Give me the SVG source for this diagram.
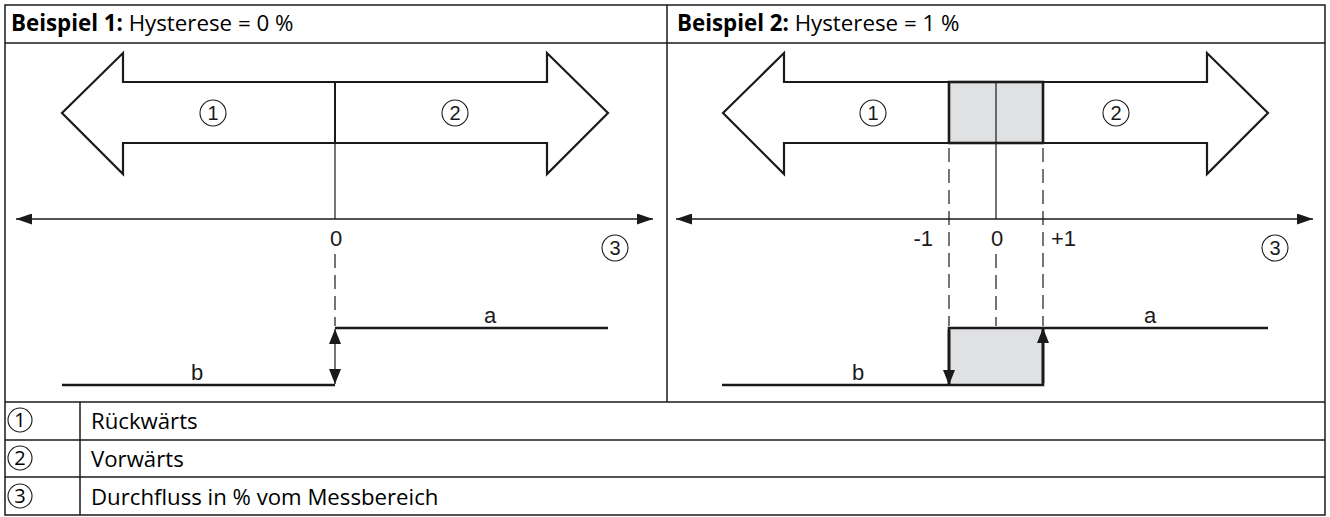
<svg xmlns="http://www.w3.org/2000/svg" width="1330" height="517" viewBox="0 0 1330 517">
<style>
.grid{fill:none;stroke:#1a1a1a;stroke-width:1.5}
.hdr{font-family:"Open Sans","Noto Sans",sans-serif;font-size:22.3px;fill:#000}
.hb{font-weight:bold}
.leg{font-family:"Open Sans","Noto Sans",sans-serif;font-size:22.2px;fill:#000}
.lbl{font-family:"Liberation Sans",Arial,sans-serif;font-size:22px;fill:#1a1a1a}
.num{font-family:"Liberation Sans",Arial,sans-serif;font-size:20px;fill:#1a1a1a;text-anchor:middle}
.lnum{font-family:"Open Sans","Noto Sans",sans-serif;font-size:20px;fill:#000;text-anchor:middle}
.circ{fill:none;stroke:#1a1a1a;stroke-width:1.1}
.big{fill:#fff;stroke:#1a1a1a;stroke-width:2.2;stroke-linejoin:miter}
.axis{stroke:#1a1a1a;stroke-width:1.3;fill:none}
.thin{stroke:#1a1a1a;stroke-width:1.2;fill:none}
.dash{stroke:#1a1a1a;stroke-width:1.2;fill:none;stroke-dasharray:14 7}
.step{stroke:#1a1a1a;stroke-width:2.6;fill:none}
.gray{fill:#e0e1e3;stroke:#1a1a1a;stroke-width:2.6}
.head{fill:#1a1a1a}
</style>
<defs>
<marker id="ah" viewBox="0 0 16 11" refX="16" refY="5.5" markerWidth="16" markerHeight="11" markerUnits="userSpaceOnUse" orient="auto-start-reverse">
<path d="M0,0 L16,5.5 L0,11 Z" class="head"/>
</marker>
<marker id="vh" viewBox="0 0 15 12" refX="15" refY="6" markerWidth="15" markerHeight="12" markerUnits="userSpaceOnUse" orient="auto-start-reverse">
<path d="M0,0 L15,6 L0,12 Z" class="head"/>
</marker>
</defs>

<g id="table">
<rect x="5" y="5" width="1320" height="510" class="grid"/>
<line x1="5" y1="43" x2="1325" y2="43" class="grid"/>
<line x1="667" y1="5" x2="667" y2="402" class="grid"/>
<line x1="5" y1="402" x2="1325" y2="402" class="grid"/>
<line x1="5" y1="440" x2="1325" y2="440" class="grid"/>
<line x1="5" y1="477" x2="1325" y2="477" class="grid"/>
<line x1="80" y1="402" x2="80" y2="515" class="grid"/>
<text x="11" y="31" class="hdr"><tspan class="hb">Beispiel 1:</tspan> Hysterese = 0 %</text>
<text x="677" y="31" class="hdr"><tspan class="hb">Beispiel 2:</tspan> Hysterese = 1 %</text>
</g>

<g id="legend">
<circle cx="20" cy="420" r="12" class="circ"/><text x="20" y="427" class="lnum">1</text>
<text x="91" y="428.5" class="leg">Rückwärts</text>
<circle cx="20" cy="458" r="12" class="circ"/><text x="20" y="465" class="lnum">2</text>
<text x="91" y="466.5" class="leg">Vorwärts</text>
<circle cx="20" cy="496" r="12" class="circ"/><text x="20" y="503" class="lnum">3</text>
<text x="91" y="504.5" class="leg">Durchfluss in % vom Messbereich</text>
</g>

<g id="example1">
<g id="ex1-arrow">
<path d="M62,113 L123,53 L123,82 L547,82 L547,53 L608,113 L547,174 L547,143 L123,143 L123,174 Z" class="big"/>
<line x1="335" y1="82" x2="335" y2="143" stroke="#1a1a1a" stroke-width="2"/>
<circle cx="213" cy="113" r="13" class="circ"/><text x="213" y="120" class="num">1</text>
<circle cx="455" cy="113" r="13" class="circ"/><text x="455" y="120" class="num">2</text>
</g>
<g id="ex1-axis">
<line x1="335" y1="143" x2="335" y2="219" class="thin"/>
<line x1="16" y1="219" x2="653" y2="219" class="axis" marker-start="url(#ah)" marker-end="url(#ah)"/>
<text x="336" y="246" class="lbl" text-anchor="middle">0</text>
<circle cx="615" cy="248" r="13" class="circ"/><text x="615" y="255" class="num">3</text>
<line x1="335" y1="254" x2="335" y2="326" class="dash"/>
</g>
<g id="ex1-step">
<polyline points="62,385 335,385" class="step"/>
<polyline points="335,328 608,328" class="step"/>
<line x1="335" y1="329" x2="335" y2="384" class="thin" marker-start="url(#vh)" marker-end="url(#vh)"/>
<text x="490" y="323" class="lbl" text-anchor="middle">a</text>
<text x="197" y="380" class="lbl" text-anchor="middle">b</text>
</g>
</g>

<g id="example2">
<g id="ex2-arrow">
<path d="M723,113 L784,53 L784,82 L1207,82 L1207,53 L1268,113 L1207,174 L1207,143 L784,143 L784,174 Z" class="big"/>
<rect x="949" y="82" width="94" height="61" class="gray" stroke-width="2.4"/>
<line x1="996" y1="82" x2="996" y2="143" class="thin"/>
<circle cx="873" cy="113" r="13" class="circ"/><text x="873" y="120" class="num">1</text>
<circle cx="1116" cy="113" r="13" class="circ"/><text x="1116" y="120" class="num">2</text>
</g>
<g id="ex2-axis">
<line x1="996" y1="143" x2="996" y2="219" class="thin"/>
<line x1="676" y1="219" x2="1313" y2="219" class="axis" marker-start="url(#ah)" marker-end="url(#ah)"/>
<text x="933" y="246" class="lbl" text-anchor="end">-1</text>
<text x="997" y="246" class="lbl" text-anchor="middle">0</text>
<text x="1051" y="246" class="lbl">+1</text>
<circle cx="1275" cy="248" r="13" class="circ"/><text x="1275" y="255" class="num">3</text>
<line x1="949" y1="148" x2="949" y2="326" class="dash"/>
<line x1="1043" y1="148" x2="1043" y2="326" class="dash"/>
<line x1="996" y1="254" x2="996" y2="326" class="dash"/>
</g>
<g id="ex2-step">
<rect x="949" y="328" width="94" height="57" fill="#e0e1e3"/>
<polyline points="722,385 1043,385 1043,328" class="step" stroke-linejoin="miter"/>
<polyline points="949,385 949,328 1268,328" class="step" stroke-linejoin="miter"/>
<line x1="949" y1="330" x2="949" y2="385" class="step" stroke-width="2.2" marker-end="url(#vh)"/>
<line x1="1043" y1="383" x2="1043" y2="328" class="step" stroke-width="2.2" marker-end="url(#vh)"/>
<text x="1150" y="323" class="lbl" text-anchor="middle">a</text>
<text x="858" y="380" class="lbl" text-anchor="middle">b</text>
</g>
</g>
</svg>
